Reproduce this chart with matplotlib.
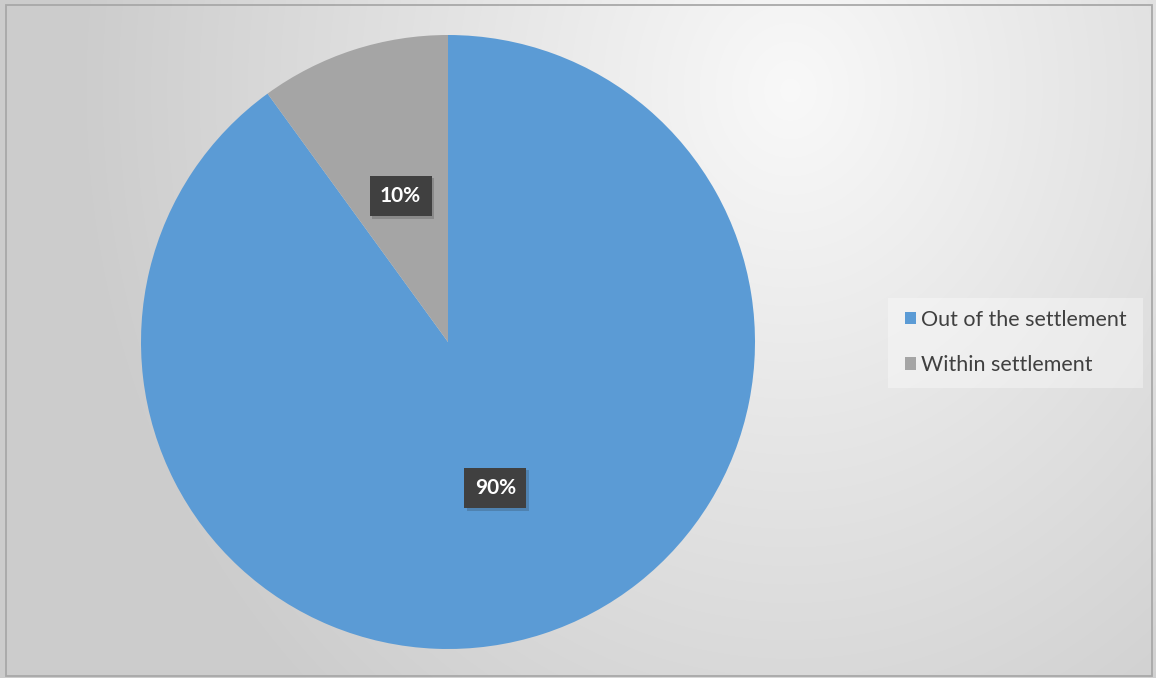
import numpy as np
import matplotlib
matplotlib.use("Agg")
import matplotlib.pyplot as plt
from matplotlib.patches import Rectangle
import matplotlib.patheffects as pe

categories = ["Out of the settlement", "Within settlement"]
values = [90, 10]
colors = ["#5B9BD5", "#A5A5A5"]

W, H = 1156, 678
fig = plt.figure(figsize=(W / 100, H / 100), dpi=100)

# background radial gradient
bg = fig.add_axes([0, 0, 1, 1])
yy, xx = np.mgrid[0:H, 0:W]
cx, cy = 790, 90
d = np.sqrt(((xx - cx) / 1.0) ** 2 + ((yy - cy) / 1.15) ** 2)
t = np.clip(d / 720.0, 0, 1)
c0 = np.array([0.975, 0.975, 0.975])
c1 = np.array([0.80, 0.80, 0.80])
img = c0[None, None, :] * (1 - t[..., None]) + c1[None, None, :] * t[..., None]
bg.imshow(img, extent=[0, W, H, 0], aspect="auto", interpolation="bilinear")
bg.set_xlim(0, W)
bg.set_ylim(H, 0)
bg.axis("off")
bg.add_patch(Rectangle((6, 4.5), W - 10, H - 7, fill=False, edgecolor="#a8a8a8", lw=1.3))

# pie
pcx, pcy, r = 448, 342, 307
ax = fig.add_axes([(pcx - r) / W, (H - pcy - r) / H, 2 * r / W, 2 * r / H])
wedges, texts, autotexts = ax.pie(
    values, colors=colors, startangle=90, counterclock=False, radius=1,
    autopct="%.0f%%", pctdistance=0.5,
    wedgeprops=dict(linewidth=0),
    textprops=dict(color="white", fontsize=15, fontweight="bold", family="Lato"),
)
for at in autotexts:
    at.set_bbox(dict(boxstyle="square,pad=0.5", facecolor="#404040", edgecolor="none",
                     path_effects=[pe.SimplePatchShadow(offset=(2, -2), shadow_rgbFace="#202020", alpha=0.2),
                                   pe.Normal()]))
ax.set_xlim(-1, 1)
ax.set_ylim(-1, 1)
ax.set_aspect("equal")
ax.axis("off")

# legend
leg_box = Rectangle((888, 298), 255, 90, facecolor="white", alpha=0.35, edgecolor="none")
bg.add_patch(leg_box)
leg = bg.legend(
    wedges, categories, loc="upper left", bbox_to_anchor=(896 / W, 1 - 301 / H),
    bbox_transform=fig.transFigure, frameon=False,
    prop=dict(family="Lato", size=15.5), labelcolor="#404040",
    handlelength=0.55, handleheight=0.55, handletextpad=0.2, labelspacing=1.2,
    borderaxespad=0,
)

fig.savefig("out.png", dpi=100)
